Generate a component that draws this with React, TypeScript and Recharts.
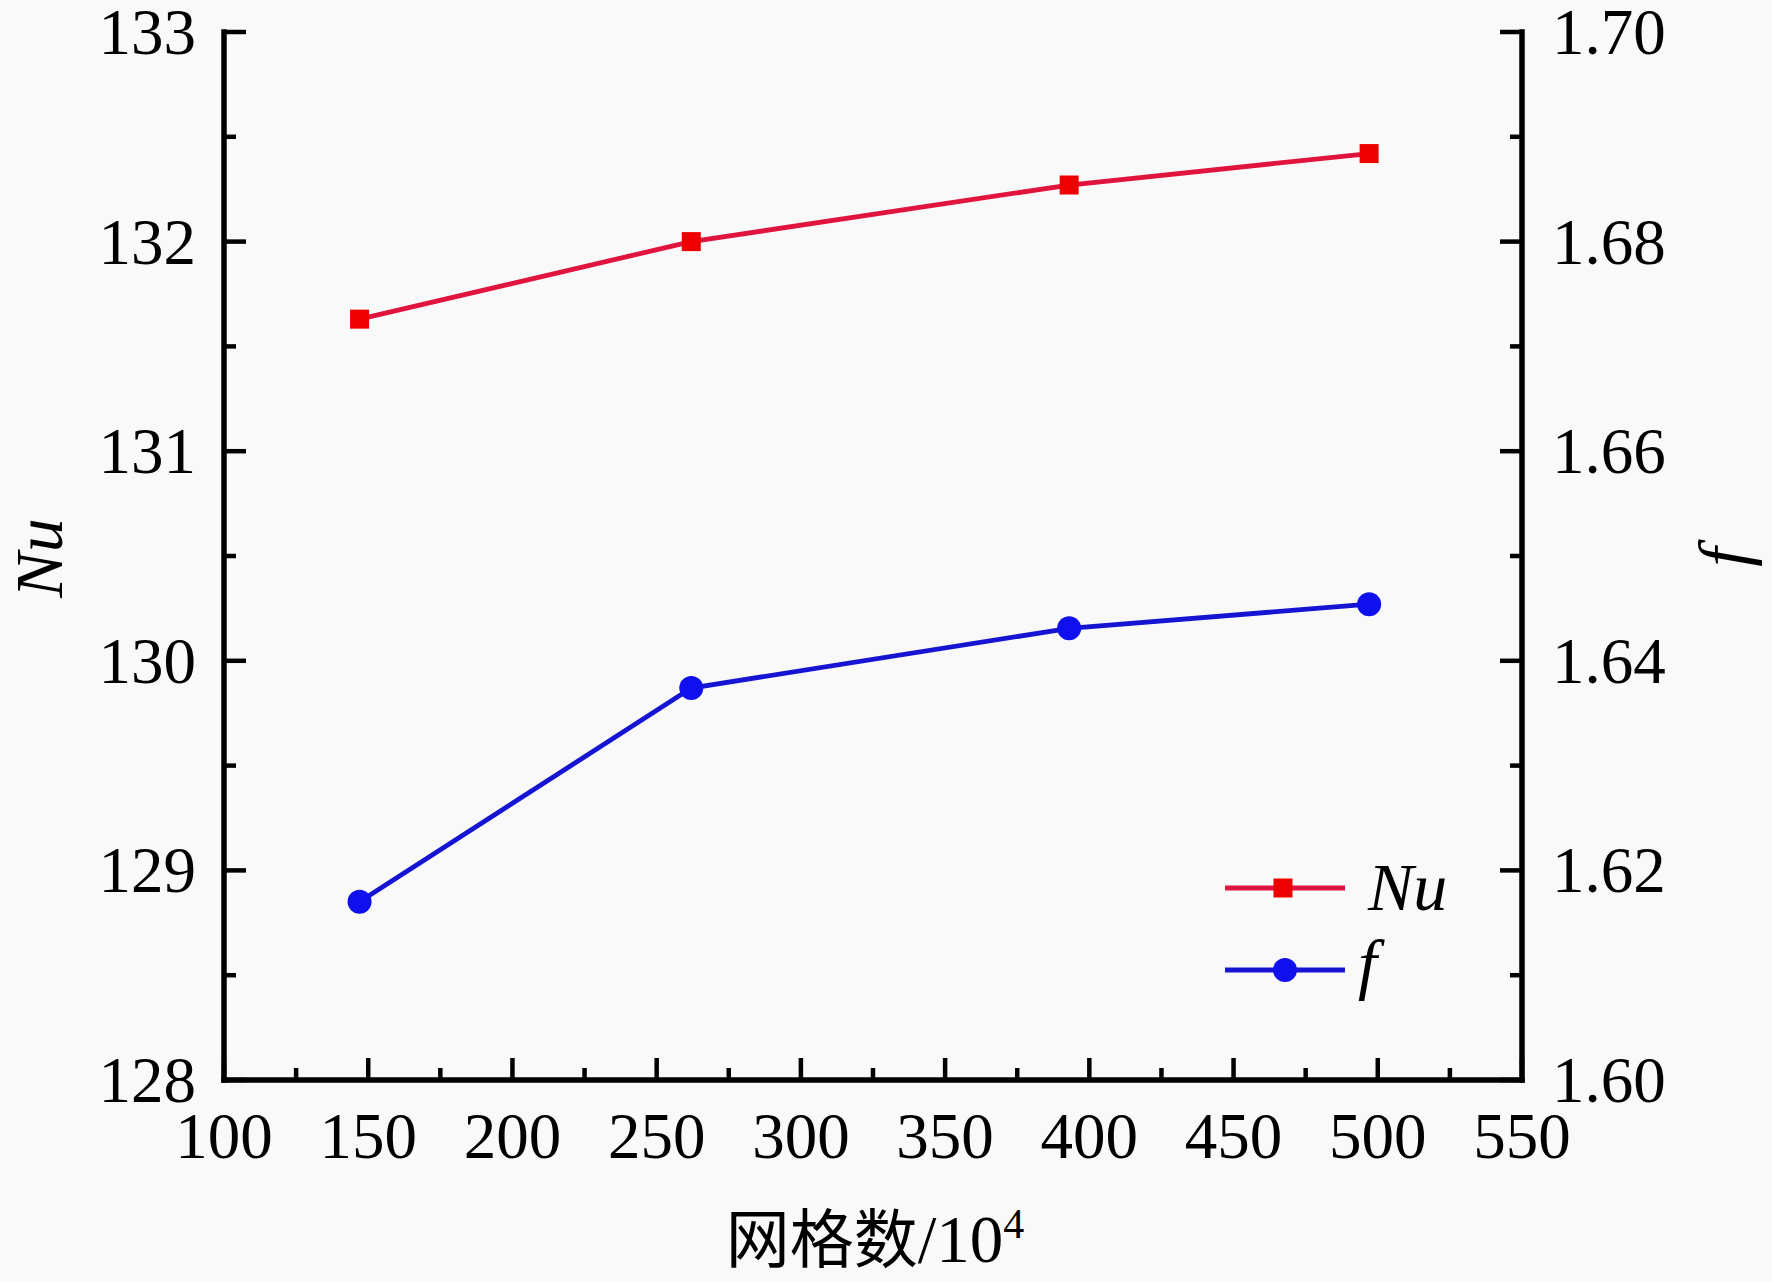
import React from 'react';
import { LineChart, Line, XAxis, YAxis, Legend } from 'recharts';

// ---- data ----
const gridCounts = [147, 262, 393, 497];
const nuValues = [131.63, 132.0, 132.27, 132.42];
const fValues = [1.617, 1.6374, 1.6431, 1.6454];

// ---- ticks ----
const xMajorTicks = [100, 150, 200, 250, 300, 350, 400, 450, 500, 550];
const xMinorTicks = [125, 175, 225, 275, 325, 375, 425, 475, 525];
const nuMajorTicks = [128, 129, 130, 131, 132, 133];
const nuMinorTicks = [128.5, 129.5, 130.5, 131.5, 132.5];
const fMajorTicks = [1.6, 1.62, 1.64, 1.66, 1.68, 1.7];
const fMinorTicks = [1.61, 1.63, 1.65, 1.67, 1.69];

const seriesNames = { nu: 'Nu', f: 'f' };
const xTitleCJK = '网格数';
const xTitleRest = '/10';
const xTitleSup = '4';

const data = gridCounts.map((g, i) => ({ grid: g, nu: nuValues[i], f: fValues[i] }));

const SERIF = '"Liberation Serif", "Times New Roman", serif';
const CJK = '"Noto Sans CJK SC", "Noto Sans CJK JP", sans-serif';
const NU_LINE = '#e0143c';
const NU_MARK = '#ee0000';
const F_LINE = '#1414d2';
const F_MARK = '#1010ee';

const merge = (a: number[], b: number[]) => [...a, ...b].sort((p, q) => p - q);
const isMajor = (v: number, majors: number[]) => majors.some((m) => Math.abs(m - v) < 1e-9);

const MAJOR_LEN = 22;
const MINOR_LEN = 12;
const TICK_W = 4.5;
const TICK_FS = 65;
const AXIS_W = 5.5;
const SERIES_W = 4.8;
const SQ = 19;
const CR = 12;

const BottomTick = (props: any) => {
  const { x, y, payload } = props;
  const v = payload.value;
  const major = isMajor(v, xMajorTicks);
  return (
    <g>
      <line x1={x} x2={x} y1={y} y2={y - (major ? MAJOR_LEN : MINOR_LEN)} stroke="#000" strokeWidth={TICK_W} />
      {major && (
        <text x={x} y={y + 78} textAnchor="middle" fontFamily={SERIF} fontSize={TICK_FS} fill="#000" stroke="none">
          {v}
        </text>
      )}
    </g>
  );
};

const LeftTick = (props: any) => {
  const { x, y, payload } = props;
  const v = payload.value;
  const major = isMajor(v, nuMajorTicks);
  return (
    <g>
      <line x1={x} x2={x + (major ? MAJOR_LEN : MINOR_LEN)} y1={y} y2={y} stroke="#000" strokeWidth={TICK_W} />
      {major && (
        <text x={x - 28} y={y + 22} textAnchor="end" fontFamily={SERIF} fontSize={TICK_FS} fill="#000" stroke="none">
          {v}
        </text>
      )}
    </g>
  );
};

const RightTick = (props: any) => {
  const { x, y, payload } = props;
  const v = payload.value;
  const major = isMajor(v, fMajorTicks);
  return (
    <g>
      <line x1={x} x2={x - (major ? MAJOR_LEN : MINOR_LEN)} y1={y} y2={y} stroke="#000" strokeWidth={TICK_W} />
      {major && (
        <text x={x + 30} y={y + 22} textAnchor="start" fontFamily={SERIF} fontSize={TICK_FS} fill="#000" stroke="none">
          {v.toFixed(2)}
        </text>
      )}
    </g>
  );
};

const SquareDot = (props: any) => {
  const { cx, cy, index } = props;
  if (cx == null || cy == null) return null;
  return <rect key={`sq-${index}`} x={cx - SQ / 2} y={cy - SQ / 2} width={SQ} height={SQ} fill={NU_MARK} stroke="none" />;
};

const CircleDot = (props: any) => {
  const { cx, cy, index } = props;
  if (cx == null || cy == null) return null;
  return <circle key={`ci-${index}`} cx={cx} cy={cy} r={CR} fill={F_MARK} stroke="none" />;
};

const LegendContent = (props: any) => {
  const payload = props.payload || [];
  return (
    <svg width={320} height={200} style={{ display: 'block' }}>
      {payload.map((entry: any, i: number) => {
        const isNu = entry.dataKey === 'nu';
        const rowY = isNu ? 48 : 130;
        return (
          <g key={`lg-${i}`}>
            <line x1={25} x2={145} y1={rowY} y2={rowY} stroke={isNu ? NU_LINE : F_LINE} strokeWidth={SERIES_W} />
            {isNu ? (
              <rect x={83 - SQ / 2} y={rowY - SQ / 2} width={SQ} height={SQ} fill={NU_MARK} />
            ) : (
              <circle cx={85} cy={rowY} r={CR} fill={F_MARK} />
            )}
            <text
              x={isNu ? 168 : 158}
              y={isNu ? 70 : 147}
              fontFamily={SERIF}
              fontStyle="italic"
              fontSize={68}
              fill="#000"
            >
              {entry.value}
            </text>
          </g>
        );
      })}
    </svg>
  );
};

const NuTitle = (props: any) => {
  const vb = props.viewBox || { x: 0, y: 0, width: 0, height: 0 };
  const cx = vb.x + 62;
  const cy = vb.y + vb.height / 2 + 2;
  return (
    <text
      x={cx}
      y={cy}
      transform={`rotate(-90 ${cx} ${cy})`}
      textAnchor="middle"
      fontFamily={SERIF}
      fontStyle="italic"
      fontSize={68}
      fill="#000"
      stroke="none"
    >
      {seriesNames.nu}
    </text>
  );
};

const FTitle = (props: any) => {
  const vb = props.viewBox || { x: 0, y: 0, width: 0, height: 0 };
  const cx = vb.x + 225;
  const cy = vb.y + vb.height / 2 + 1;
  return (
    <text
      x={cx}
      y={cy}
      transform={`rotate(-90 ${cx} ${cy})`}
      textAnchor="middle"
      fontFamily={SERIF}
      fontStyle="italic"
      fontSize={70}
      fill="#000"
      stroke="none"
    >
      {seriesNames.f}
    </text>
  );
};

const XTitle = (props: any) => {
  const vb = props.viewBox || { x: 0, y: 0, width: 0, height: 0 };
  const cx = vb.x + vb.width / 2 + 2;
  const by = vb.y + 182;
  return (
    <text x={cx} y={by} textAnchor="middle" fill="#000" stroke="none">
      <tspan fontFamily={CJK} fontSize={64}>{xTitleCJK}</tspan>
      <tspan fontFamily={SERIF} fontSize={67}>{xTitleRest}</tspan>
      <tspan fontFamily={SERIF} fontSize={42} dy={-24}>{xTitleSup}</tspan>
    </text>
  );
};

const axisLineStyle = { stroke: '#000', strokeWidth: AXIS_W, strokeLinecap: 'square' as const };

export default function App() {
  return (
    <div style={{ position: 'absolute', left: 0, top: 0, width: 1772, height: 1282, background: '#f9f9f9' }}>
      <LineChart width={1772} height={1282} data={data} margin={{ top: 32, right: 0, bottom: 0, left: 0 }}>
        <XAxis
          xAxisId="b"
          dataKey="grid"
          type="number"
          domain={[100, 550]}
          ticks={merge(xMajorTicks, xMinorTicks)}
          interval={0}
          allowDataOverflow
          height={202}
          tickSize={0}
          tickMargin={0}
          tickLine={false}
          stroke="#000"
          strokeWidth={AXIS_W}
          axisLine={axisLineStyle}
          tick={<BottomTick />}
          label={<XTitle />}
        />
        <XAxis
          xAxisId="t"
          orientation="top"
          dataKey="grid"
          type="number"
          domain={[100, 550]}
          height={0}
          tick={false}
          tickLine={false}
          stroke="#000"
          strokeWidth={AXIS_W}
          axisLine={axisLineStyle}
        />
        <YAxis
          yAxisId="left"
          type="number"
          domain={[128, 133]}
          ticks={merge(nuMajorTicks, nuMinorTicks)}
          interval={0}
          allowDataOverflow
          width={224}
          tickSize={0}
          tickMargin={0}
          tickLine={false}
          stroke="#000"
          strokeWidth={AXIS_W}
          axisLine={axisLineStyle}
          tick={<LeftTick />}
          label={<NuTitle />}
        />
        <YAxis
          yAxisId="right"
          orientation="right"
          type="number"
          domain={[1.6, 1.7]}
          ticks={merge(fMajorTicks, fMinorTicks)}
          interval={0}
          allowDataOverflow
          width={250}
          tickSize={0}
          tickMargin={0}
          tickLine={false}
          stroke="#000"
          strokeWidth={AXIS_W}
          axisLine={axisLineStyle}
          tick={<RightTick />}
          label={<FTitle />}
        />
        <Legend
          layout="horizontal"
          verticalAlign="middle"
          align="center"
          content={<LegendContent />}
          wrapperStyle={{ position: 'absolute', left: 1200, top: 840, width: 320, height: 200, bottom: 'auto', right: 'auto' }}
        />
        <Line
          xAxisId="b"
          yAxisId="left"
          type="linear"
          dataKey="nu"
          name={seriesNames.nu}
          stroke={NU_LINE}
          strokeWidth={SERIES_W}
          dot={<SquareDot />}
          activeDot={false}
          isAnimationActive={false}
        />
        <Line
          xAxisId="b"
          yAxisId="right"
          type="linear"
          dataKey="f"
          name={seriesNames.f}
          stroke={F_LINE}
          strokeWidth={SERIES_W}
          dot={<CircleDot />}
          activeDot={false}
          isAnimationActive={false}
        />
      </LineChart>
    </div>
  );
}
